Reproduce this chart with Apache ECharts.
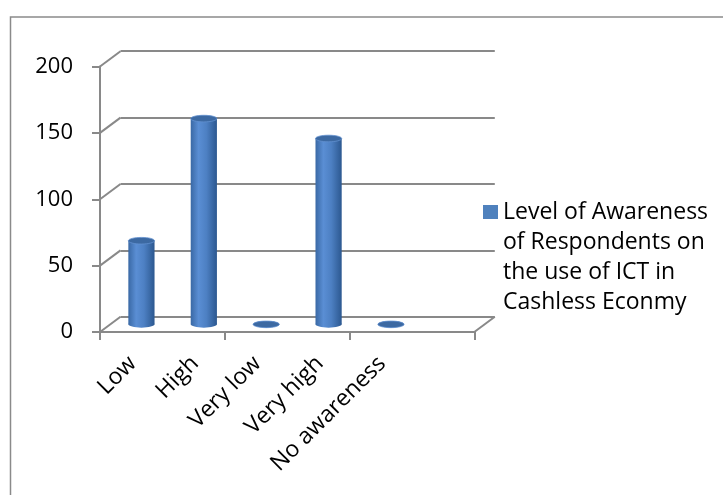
<!DOCTYPE html>
<html><head><meta charset="utf-8">
<script src="https://cdn.jsdelivr.net/npm/echarts@6/dist/echarts.min.js"></script>
<style>html,body{margin:0;padding:0;background:#fff}#c{width:723px;height:495px}</style>
</head><body><div id="c"></div>
<script>
// ---- data ----
const categories = ['Low', 'High', 'Very low', 'Very high', 'No awareness', ''];
const awareness = [63, 155, 0, 140, 0, null];
const seriesName = 'Level of Awareness of Respondents on the use of ICT in Cashless Econmy';
const legendLines = ['Level of Awareness', 'of Respondents on', 'the use of ICT in', 'Cashless Econmy'];
const yTicks = [0, 50, 100, 150, 200];
const yMin = 0, yMax = 200, yStep = 50;

// ---- styles / layout ----
const FONT = 'Open Sans';
const GRAY = '#898989';
const FRONT = { left: 100, top: 66.5, width: 374.3, height: 265.5 };
const DEPTH = { dx: 20.5, dy: -15.3 };
const LABEL_SHIFT = 1.5;
const BAR_RATIO = 0.42;

function gridAt(fx, fy) {
  return { left: FRONT.left + fx, top: FRONT.top + fy, width: FRONT.width, height: FRONT.height, containLabel: false };
}
function valAxis(gi, extra) {
  return Object.assign({ type: 'value', gridIndex: gi, min: yMin, max: yMax, interval: yStep,
    axisLine: { show: false }, axisTick: { show: false }, axisLabel: { show: false }, splitLine: { show: false } }, extra || {});
}
function catAxis(gi, extra) {
  return Object.assign({ type: 'category', gridIndex: gi, data: categories, boundaryGap: true,
    axisLine: { show: false }, axisTick: { show: false }, axisLabel: { show: false }, splitLine: { show: false } }, extra || {});
}

const barGrad = { type: 'linear', x: 0, y: 0, x2: 1, y2: 0, colorStops: [
  { offset: 0, color: '#3a69a5' }, { offset: 0.3, color: '#5a8ed4' },
  { offset: 0.6, color: '#4d80c3' }, { offset: 1, color: '#2c5890' } ] };

function renderCylinder(params, api) {
  const v = api.value(1);
  if (v == null || isNaN(v)) return null;
  const idx = api.value(0);
  const b = api.coord([idx, 0]);
  const t = api.coord([idx, v]);
  const w = api.size([1, 0])[0] * BAR_RATIO;
  const rx = w / 2, ry = 3.3;
  return { type: 'group', children: [
    { type: 'ellipse', shape: { cx: b[0], cy: b[1], rx: rx, ry: ry }, style: { fill: barGrad } },
    { type: 'rect', shape: { x: b[0] - rx, y: t[1], width: w, height: b[1] - t[1] }, style: { fill: barGrad } },
    { type: 'ellipse', shape: { cx: t[0], cy: t[1], rx: rx, ry: ry }, style: { fill: '#3c69a2', stroke: '#6290cf', lineWidth: 0.8 } }
  ] };
}

function renderDiag(params, api) {
  const v = api.value(1);
  const cs = params.coordSys;
  const y = api.coord([0, v])[1];
  const st = { stroke: GRAY, lineWidth: 2 };
  const ch = [{ type: 'line', shape: { x1: cs.x, y1: y, x2: cs.x + DEPTH.dx, y2: y + DEPTH.dy }, style: st }];
  if (v === yMin) ch.push({ type: 'line', shape: { x1: cs.x + cs.width, y1: y, x2: cs.x + cs.width + DEPTH.dx, y2: y + DEPTH.dy }, style: st });
  return { type: 'group', children: ch };
}

const chart = echarts.init(document.getElementById('c'), null, { renderer: 'canvas' });
chart.setOption({
  animation: false,
  backgroundColor: '#fff',
  textStyle: { fontFamily: FONT },
  graphic: [{ type: 'rect', left: 8, top: 14.5, shape: { width: 740, height: 520 }, style: { fill: 'none', stroke: '#8a8a8a', lineWidth: 1.5 }, silent: true }],
  grid: [gridAt(0, 0), gridAt(DEPTH.dx, DEPTH.dy), gridAt(DEPTH.dx / 2, DEPTH.dy / 2), gridAt(LABEL_SHIFT, 0)],
  xAxis: [
    catAxis(0, { axisLine: { show: true, lineStyle: { color: GRAY, width: 2 } }, axisTick: { show: true, length: 8, lineStyle: { color: GRAY, width: 2 } } }),
    catAxis(1),
    catAxis(2),
    catAxis(3, { axisLabel: { show: true, rotate: 45, margin: 28, interval: 0, fontFamily: FONT, fontSize: 23, color: '#000' } })
  ],
  yAxis: [
    valAxis(0, { axisLine: { show: true, lineStyle: { color: GRAY, width: 2 } }, axisTick: { show: true, length: 8, lineStyle: { color: GRAY, width: 2 } },
      axisLabel: { show: true, margin: 27, fontFamily: FONT, fontSize: 22, color: '#000' } }),
    valAxis(1, { splitLine: { show: true, lineStyle: { color: GRAY, width: 2 } } }),
    valAxis(2),
    valAxis(3)
  ],
  legend: {
    data: [seriesName], left: 483, top: 107, padding: 0, icon: 'rect', itemWidth: 15, itemHeight: 14,
    formatter: function () { return '\n\n\n' + legendLines.join('\n'); },
    textStyle: { fontFamily: FONT, fontSize: 23, color: '#000', lineHeight: 30 }
  },
  series: [
    { type: 'custom', name: 'walls', xAxisIndex: 0, yAxisIndex: 0, silent: true,
      data: yTicks.map(function (v) { return [0, v]; }), encode: { x: 0, y: 1 }, renderItem: renderDiag },
    { type: 'custom', name: seriesName, xAxisIndex: 2, yAxisIndex: 2, itemStyle: { color: '#4f81bd' },
      data: awareness.map(function (v, i) { return [i, v]; }), encode: { x: 0, y: 1 }, renderItem: renderCylinder }
  ]
});
</script></body></html>
